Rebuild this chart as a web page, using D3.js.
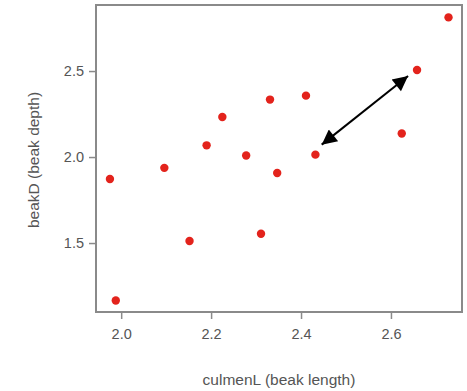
<!DOCTYPE html>
<html><head><meta charset="utf-8">
<script src="https://cdn.jsdelivr.net/npm/d3@7"></script>
<style>body{margin:0;background:#fff;} svg{display:block;}</style>
</head><body>
<svg id="c" width="467" height="391"></svg>
<script>
const culmenL = [1.975, 1.988, 2.096, 2.152, 2.190, 2.225, 2.278, 2.311, 2.331, 2.347, 2.411, 2.432, 2.624, 2.658, 2.728];
const beakD   = [1.872, 1.166, 1.937, 1.512, 2.068, 2.233, 2.009, 1.554, 2.334, 1.907, 2.357, 2.014, 2.137, 2.506, 2.812];
const xTicks = [2.0, 2.2, 2.4, 2.6];
const yTicks = [1.5, 2.0, 2.5];
const arrowFrom = [2.446, 2.072];
const arrowTo   = [2.638, 2.471];

const svg = d3.select("#c");
const L = 96, R = 462, T = 5, B = 312;
const x = d3.scaleLinear().domain([1.944, 2.758]).range([L, R]);
const y = d3.scaleLinear().domain([1.099, 2.884]).range([B, T]);
const grey = "#8a8a8a", txt = "#555";
const ff = "Liberation Sans, Arial, sans-serif";

svg.append("defs").append("marker").attr("id","ah")
  .attr("viewBox","0 0 10 10").attr("refX",10).attr("refY",5)
  .attr("markerWidth",8.5).attr("markerHeight",7.5).attr("markerUnits","strokeWidth")
  .attr("orient","auto-start-reverse")
  .append("path").attr("d","M0,0 L10,5 L0,10 Z").attr("fill","#000");

const xa = svg.append("g").attr("transform",`translate(0,${B})`)
  .call(d3.axisBottom(x).tickValues(xTicks).tickFormat(d3.format(".1f")).tickSize(7).tickPadding(10));
const ya = svg.append("g").attr("transform",`translate(${L},0)`)
  .call(d3.axisLeft(y).tickValues(yTicks).tickFormat(d3.format(".1f")).tickSize(7).tickPadding(5));
[xa, ya].forEach(g => {
  g.select(".domain").remove();
  g.selectAll("line").attr("stroke", grey).attr("stroke-width", 1.5);
  g.selectAll("text").attr("fill", txt).attr("font-family", ff).attr("font-size", 14.5);
});

svg.append("rect").attr("x",L).attr("y",T).attr("width",R-L).attr("height",B-T)
  .attr("fill","none").attr("stroke",grey).attr("stroke-width",2);

svg.append("g").selectAll("circle").data(culmenL.map((v,i)=>[v,beakD[i]])).join("circle")
  .attr("cx",d=>x(d[0])).attr("cy",d=>y(d[1])).attr("r",4.2).attr("fill","#e3231c");

svg.append("line")
  .attr("x1",x(arrowFrom[0])).attr("y1",y(arrowFrom[1]))
  .attr("x2",x(arrowTo[0])).attr("y2",y(arrowTo[1]))
  .attr("stroke","#000").attr("stroke-width",2)
  .attr("marker-start","url(#ah)").attr("marker-end","url(#ah)");

svg.append("text").attr("x",279).attr("y",385).attr("text-anchor","middle")
  .attr("fill",txt).attr("font-family",ff).attr("font-size",15.5)
  .text("culmenL (beak length)");
svg.append("text").attr("transform","translate(39,160) rotate(-90)").attr("text-anchor","middle")
  .attr("fill",txt).attr("font-family",ff).attr("font-size",15.5)
  .text("beakD (beak depth)");
</script>
</body></html>
